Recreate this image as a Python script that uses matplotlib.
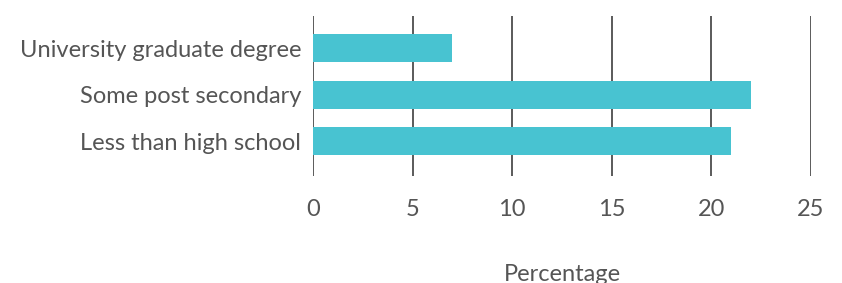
import matplotlib
matplotlib.use("Agg")
import matplotlib.pyplot as plt

categories = ["Less than high school", "Some post secondary", "University graduate degree"]
values = [21, 22, 7]
ticks = [0, 5, 10, 15, 20, 25]

plt.rcParams["font.family"] = ["Lato", "DejaVu Sans"]
text_col = "#555555"

fig = plt.figure(figsize=(8.42, 2.83), dpi=100)
ax = fig.add_axes([313 / 842, 1 - 176 / 283, (811 - 313) / 842, 160 / 283])

ax.barh(range(len(categories)), values, height=0.6, color="#48C3D1", zorder=2)
ax.set_xlim(0, 25)
ax.set_ylim(-0.75, 2.69)
ax.set_xticks(ticks)
ax.set_yticks(range(len(categories)))
ax.set_yticklabels(categories)
ax.grid(axis="x", color="#4d4d4d", linewidth=1.3, zorder=1)
for s in ax.spines.values():
    s.set_visible(False)
ax.tick_params(axis="both", length=0, labelsize=17, colors=text_col)
ax.tick_params(axis="x", pad=16.5)
ax.tick_params(axis="y", pad=8.5)
ax.set_xlabel("Percentage", fontsize=17, color=text_col, labelpad=31.5)

fig.savefig("out.png", dpi=100)
